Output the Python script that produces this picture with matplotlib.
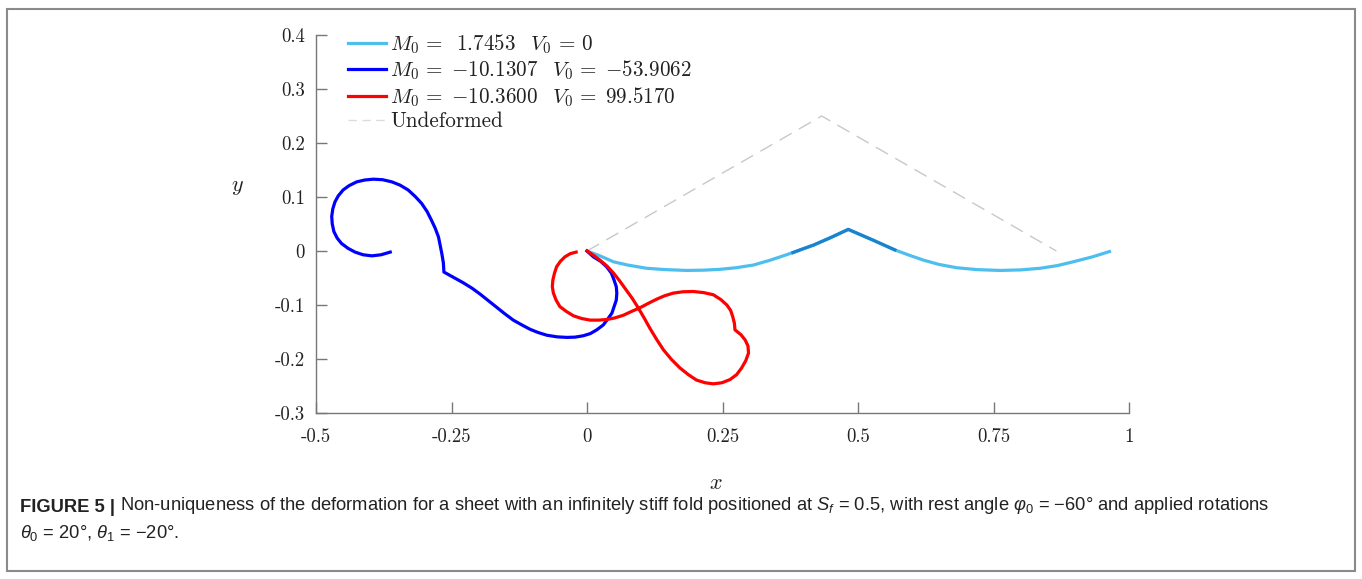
import matplotlib
matplotlib.use("Agg")
import matplotlib.pyplot as plt
from matplotlib.patches import Rectangle

plt.rcParams['mathtext.fontset'] = 'cm'
plt.rcParams['mathtext.rm'] = 'Liberation Sans'
plt.rcParams['mathtext.it'] = 'Liberation Sans:italic'

# Curves (x, y)
light_x = [0.0, 0.025, 0.049, 0.075, 0.110, 0.145, 0.184, 0.215, 0.245, 0.275,
           0.307, 0.338, 0.368, 0.393, 0.418, 0.450, 0.482,
           0.505, 0.528, 0.548, 0.568, 0.595, 0.621, 0.650, 0.682, 0.720,
           0.762, 0.800, 0.836, 0.868, 0.897, 0.932, 0.964]
light_y = [0.0, -0.0095, -0.020, -0.026, -0.032, -0.0345, -0.036, -0.0355, -0.034, -0.031,
           -0.026, -0.017, -0.007, 0.002, 0.011, 0.025, 0.040,
           0.030, 0.020, 0.011, 0.002, -0.008, -0.017, -0.025, -0.031, -0.0345,
           -0.036, -0.035, -0.032, -0.027, -0.020, -0.011, -0.001]

# darker stretch around the fold on the light-blue curve
fold_x = [0.380, 0.393, 0.418, 0.450, 0.482, 0.505, 0.528, 0.548, 0.568]
fold_y = [-0.003, 0.002, 0.011, 0.025, 0.040, 0.030, 0.020, 0.011, 0.002]

blue_x = [0.0, 0.012, 0.025, 0.036, 0.045, 0.050, 0.054, 0.055, 0.054, 0.050, 0.046,
          0.039, 0.030, 0.018, 0.006, -0.007, -0.022, -0.037, -0.055, -0.074, -0.090,
          -0.105, -0.120, -0.136, -0.152, -0.167, -0.182, -0.197, -0.212, -0.228,
          -0.246, -0.264,
          -0.265, -0.268, -0.271, -0.274, -0.280, -0.287, -0.295, -0.305, -0.317,
          -0.330, -0.345, -0.360, -0.377, -0.394, -0.410, -0.425, -0.439, -0.450,
          -0.459, -0.465, -0.469, -0.471, -0.470, -0.467, -0.461, -0.453, -0.441,
          -0.428, -0.413, -0.397, -0.380, -0.363]
blue_y = [0.0, -0.011, -0.019, -0.029, -0.041, -0.054, -0.066, -0.078, -0.091, -0.103, -0.115,
          -0.125, -0.137, -0.146, -0.153, -0.157, -0.1595, -0.160, -0.159, -0.156, -0.151,
          -0.145, -0.137, -0.128, -0.116, -0.104, -0.092, -0.080, -0.069, -0.059,
          -0.049, -0.039,
          -0.022, -0.004, 0.011, 0.026, 0.042, 0.057, 0.073, 0.088, 0.101,
          0.113, 0.122, 0.128, 0.132, 0.133, 0.1315, 0.128, 0.121, 0.113,
          0.102, 0.091, 0.078, 0.064, 0.050, 0.036, 0.024, 0.014, 0.005,
          -0.002, -0.007, -0.009, -0.007, -0.002]

red_x = [0.0, 0.012, 0.024, 0.037, 0.049, 0.060, 0.070, 0.083, 0.095, 0.106,
         0.116, 0.128, 0.141, 0.156, 0.172, 0.187, 0.202, 0.218, 0.233, 0.249,
         0.264, 0.276, 0.285, 0.293, 0.298, 0.297, 0.292, 0.284, 0.273,
         0.272, 0.269, 0.265, 0.258, 0.247, 0.233, 0.215, 0.196, 0.177, 0.159,
         0.143, 0.129, 0.113, 0.098, 0.082, 0.067, 0.051, 0.036, 0.021, 0.006,
         -0.010, -0.025, -0.038, -0.050, -0.057, -0.062, -0.064, -0.063, -0.060,
         -0.056, -0.049, -0.041, -0.031, -0.020]
red_y = [0.0, -0.008, -0.017, -0.028, -0.041, -0.055, -0.069, -0.087, -0.106, -0.125,
         -0.143, -0.163, -0.183, -0.201, -0.217, -0.229, -0.239, -0.244, -0.246, -0.244,
         -0.238, -0.229, -0.217, -0.203, -0.189, -0.176, -0.165, -0.155, -0.146,
         -0.134, -0.122, -0.110, -0.100, -0.090, -0.081, -0.077, -0.075, -0.0755, -0.078,
         -0.083, -0.089, -0.097, -0.105, -0.112, -0.119, -0.124, -0.127, -0.128, -0.128,
         -0.125, -0.120, -0.112, -0.103, -0.091, -0.078, -0.066, -0.054, -0.041,
         -0.029, -0.019, -0.011, -0.005, -0.002]

undef_x = [0.0, 0.433, 0.866]
undef_y = [0.0, 0.25, 0.0]

labels = [r'$M_0 \,=\;\;1.7453 \;\;\; V_0 \,=\, 0$',
          r'$M_0 \,=\; {-10.1307} \;\;\; V_0 \,=\; {-53.9062}$',
          r'$M_0 \,=\; {-10.3600} \;\;\; V_0 \,=\; 99.5170$',
          'Undeformed']

xticks = [-0.5, -0.25, 0, 0.25, 0.5, 0.75, 1]
xtick_labels = ['-0.5', '-0.25', '0', '0.25', '0.5', '0.75', '1']
yticks = [-0.3, -0.2, -0.1, 0, 0.1, 0.2, 0.3, 0.4]
ytick_labels = ['-0.3', '-0.2', '-0.1', '0', '0.1', '0.2', '0.3', '0.4']

fig = plt.figure(figsize=(13.62, 5.79), dpi=100)
ax = fig.add_axes([316 / 1362, 1 - 413 / 579, 813 / 1362, 378 / 579])

lw = 2.3
ax.plot(undef_x, undef_y, color='#c8c8c8', lw=1.0, dashes=(10, 6))
h1, = ax.plot(light_x, light_y, color='#4dbeee', lw=lw)
ax.plot(fold_x, fold_y, color='#1a82cf', lw=lw)
h2, = ax.plot(blue_x, blue_y, color='#0000ff', lw=lw)
h3, = ax.plot(red_x, red_y, color='#ff0000', lw=lw)

ax.set_xlim(-0.5, 1)
ax.set_ylim(-0.3, 0.4)
ax.set_xticks(xticks)
ax.set_xticklabels(xtick_labels, family='cmr10', fontsize=13.5)
ax.set_yticks(yticks)
ax.set_yticklabels(ytick_labels, family='cmr10', fontsize=13.5)
ax.tick_params(direction='in', length=8, width=1, color='#777777',
               labelcolor='#222222')
ax.tick_params(axis='x', pad=10.5)
ax.tick_params(axis='y', pad=8)
for side in ['top', 'right']:
    ax.spines[side].set_visible(False)
for side in ['left', 'bottom']:
    ax.spines[side].set_color('#777777')
    ax.spines[side].set_linewidth(1.0)

ax.set_xlabel(r'$x$', fontsize=16, color='#222222')
ax.xaxis.set_label_coords(0.492, -0.16)
ax.set_ylabel(r'$y$', fontsize=16, rotation=0, color='#222222')
ax.yaxis.set_label_coords(-0.097, 0.571)

leg_undef = plt.Line2D([], [], color='#dcdcdc', lw=1.0, dashes=(6, 4))
leg = ax.legend([h1, h2, h3, leg_undef], labels, loc='upper left',
                bbox_to_anchor=(0.039, 1.007), frameon=False,
                handlelength=1.8, handletextpad=0.22, labelspacing=0.13,
                borderpad=0, borderaxespad=0, prop={'family': 'cmr10', 'size': 15.2})
for t in leg.get_texts():
    t.set_color('#222222')

# frame around the whole figure
fig.patches.append(Rectangle((7 / 1362, 8 / 579), 1348 / 1362, 562 / 579,
                             transform=fig.transFigure, fill=False,
                             edgecolor='#8a8a8a', lw=1.5))

cap_kw = dict(family='Liberation Sans', fontsize=13.25, color='#222222')
t1 = fig.text(20 / 1362, 1 - 507 / 579, 'FIGURE 5 |', fontweight='bold',
              va='center', **cap_kw)
ax.annotate(' Non-uniqueness of the deformation for a sheet with an infinitely stiff fold '
            r'positioned at $S_f$ = 0.5, with rest angle $\varphi_0$ = −60° and applied rotations',
            xy=(1, 0), xycoords=t1, va='bottom', ha='left', annotation_clip=False,
            math_fontfamily='custom', **cap_kw)
fig.text(20 / 1362, 1 - 533 / 579, r'$\theta_0$ = 20°, $\theta_1$ = −20°.',
         va='center', math_fontfamily='custom', **cap_kw)

fig.savefig('out.png', dpi=100)
